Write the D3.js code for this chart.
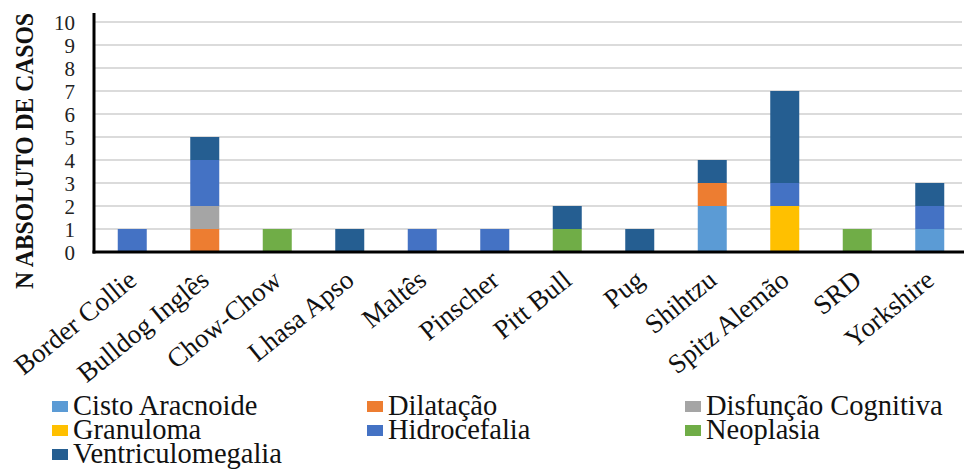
<!DOCTYPE html>
<html><head><meta charset="utf-8">
<script src="https://cdn.jsdelivr.net/npm/d3@7/dist/d3.min.js"></script>
<style>body{margin:0;background:#fff}svg{display:block}
svg text{font-family:"Liberation Serif";}
</style>
</head><body><svg id="c" width="964" height="471"></svg>
<script>
const categories = ["Border Collie","Bulldog Inglês","Chow-Chow","Lhasa Apso","Maltês","Pinscher","Pitt Bull","Pug","Shihtzu","Spitz Alemão","SRD","Yorkshire"];
const seriesNames = ["Cisto Aracnoide","Dilatação","Disfunção Cognitiva","Granuloma","Hidrocefalia","Neoplasia","Ventriculomegalia"];
const seriesColors = ["#5B9BD5","#ED7D31","#A5A5A5","#FFC000","#4472C4","#70AD47","#255E91"];
const cistoAracnoide    = [0,0,0,0,0,0,0,0,2,0,0,1];
const dilatacao         = [0,1,0,0,0,0,0,0,1,0,0,0];
const disfuncaoCognitiva= [0,1,0,0,0,0,0,0,0,0,0,0];
const granuloma         = [0,0,0,0,0,0,0,0,0,2,0,0];
const hidrocefalia      = [1,2,0,0,1,1,0,0,0,1,0,1];
const neoplasia         = [0,0,1,0,0,0,1,0,0,0,1,0];
const ventriculomegalia = [0,1,0,1,0,0,1,1,1,4,0,1];
const yTicks = [0,1,2,3,4,5,6,7,8,9,10];
const yTitle = "N ABSOLUTO DE CASOS";

const seriesValues = [cistoAracnoide,dilatacao,disfuncaoCognitiva,granuloma,hidrocefalia,neoplasia,ventriculomegalia];
const rows = categories.map((c,i)=>{const o={cat:c}; seriesNames.forEach((s,j)=>o[s]=seriesValues[j][i]); return o;});
const stacked = d3.stack().keys(seriesNames)(rows);

const svg = d3.select("#c");
const FONT = "Liberation Serif";
const x = d3.scaleBand().domain(categories).range([96,966]).paddingInner(0.6).paddingOuter(0.3);
const y = d3.scaleLinear().domain([0,10]).range([252,22]);
const color = d3.scaleOrdinal().domain(seriesNames).range(seriesColors);

// gridlines
svg.append("g").selectAll("line").data(yTicks.filter(d=>d>0)).join("line")
  .attr("x1",94).attr("x2",962).attr("y1",d=>y(d)).attr("y2",d=>y(d))
  .attr("stroke","#cfcfcf").attr("stroke-width",1.3);

// bars
svg.append("g").selectAll("g").data(stacked).join("g").attr("fill",d=>color(d.key))
  .selectAll("rect").data(d=>d.filter(v=>v[1]-v[0]>0)).join("rect")
  .attr("x",d=>x(d.data.cat)).attr("width",x.bandwidth())
  .attr("y",d=>y(d[1])).attr("height",d=>y(d[0])-y(d[1]));

// y axis
const ya = svg.append("g").attr("transform","translate(94,0)")
  .call(d3.axisLeft(y).tickValues(yTicks).tickSize(0).tickPadding(19).tickFormat(d3.format("d")));
ya.attr("font-family",null).attr("font-size",null);
ya.select(".domain").remove();
ya.selectAll("text").style("font-family",FONT).style("font-size","21px").attr("fill","#222").attr("dy","0.34em");
svg.append("line").attr("x1",94).attr("x2",94).attr("y1",13).attr("y2",253.5).attr("stroke","#000").attr("stroke-width",3);

// x axis
const xa = svg.append("g").attr("transform","translate(0,252)")
  .call(d3.axisBottom(x).tickSize(0).tickPadding(0));
xa.attr("font-family",null).attr("font-size",null);
xa.select(".domain").remove();
xa.selectAll("text").style("font-family",FONT).style("font-size","27px").attr("fill","#111")
  .attr("text-anchor","end").attr("dy",0).attr("y",0)
  .attr("transform","translate(6,31) rotate(-39)");
svg.append("line").attr("x1",92.5).attr("x2",964).attr("y1",252).attr("y2",252).attr("stroke","#000").attr("stroke-width",3);

// y title
svg.append("text").attr("transform","translate(33,151) rotate(-90)")
  .attr("text-anchor","middle").style("font-family",FONT).style("font-weight","bold")
  .style("font-size","25px").attr("fill","#111").attr("textLength",276).attr("lengthAdjust","spacingAndGlyphs")
  .text(yTitle);

// legend
const colX = [52,367,685];
const rowY = [415,439,463];
const lg = svg.append("g").selectAll("g").data(seriesNames).join("g")
  .attr("transform",(d,i)=>`translate(${colX[i%3]},${rowY[Math.floor(i/3)]})`);
lg.append("rect").attr("x",0).attr("y",-14).attr("width",16).attr("height",11).attr("fill",d=>color(d));
lg.append("text").attr("x",21).attr("y",0).style("font-family",FONT).style("font-size","28.5px").attr("fill","#111").text(d=>d);
</script></body></html>
